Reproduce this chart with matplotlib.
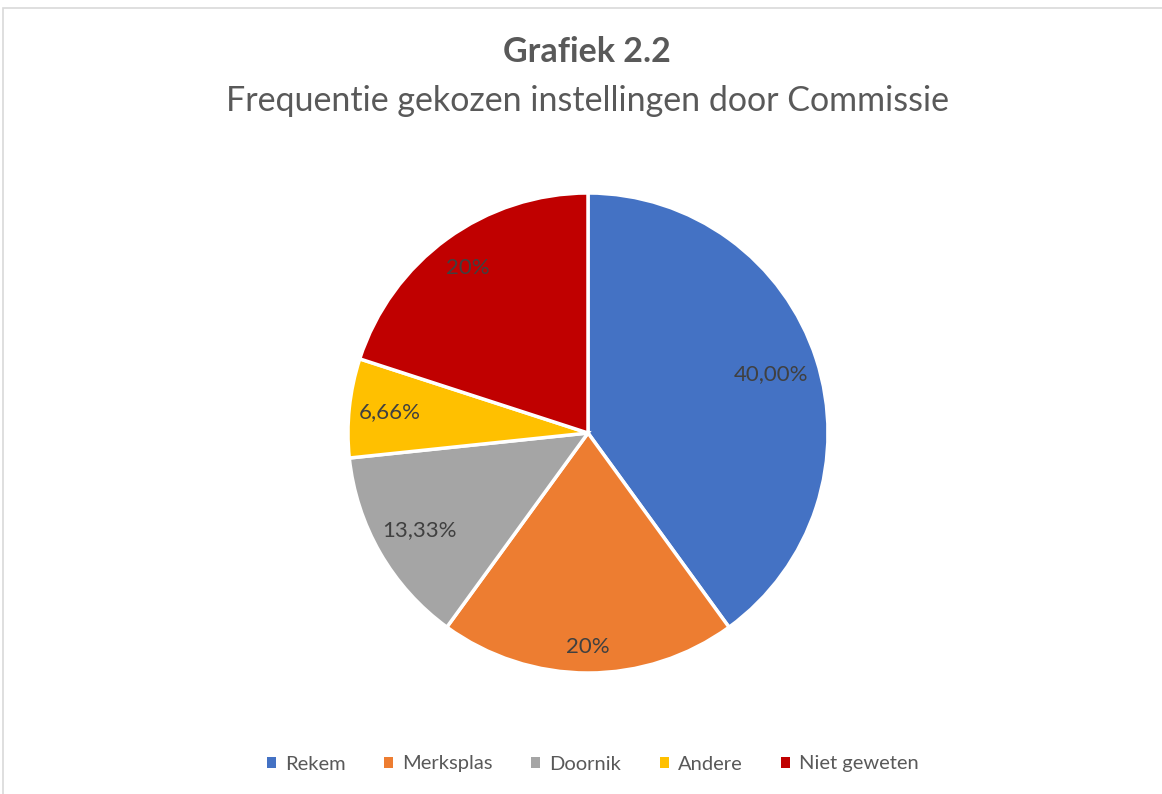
import matplotlib
matplotlib.use("Agg")
import matplotlib.pyplot as plt
from matplotlib.patches import Rectangle
import numpy as np

plt.rcParams['font.family'] = ['Lato', 'DejaVu Sans']

categories = ["Rekem", "Merksplas", "Doornik", "Andere", "Niet geweten"]
values = [40.00, 20.0, 13.33, 6.66, 20.0]
value_labels = ["40,00%", "20%", "13,33%", "6,66%", "20%"]
colors = ["#4472C4", "#ED7D31", "#A5A5A5", "#FFC000", "#C00000"]
label_dist = [0.80, 0.89, 0.81, 0.83, 0.85]

W, H = 1162, 794
fig = plt.figure(figsize=(W / 100, H / 100), dpi=100)
fig.patch.set_facecolor("white")

# chart border (partially visible)
fig.add_artist(Rectangle((3 / W, -0.05), 1.2, 1 - 8 / H + 0.05, transform=fig.transFigure,
                         fill=False, edgecolor="#D9D9D9", linewidth=1.2))

cx, cy, r = 588, 433, 240
ax = fig.add_axes([(cx - r) / W, (H - cy - r) / H, 2 * r / W, 2 * r / H])
wedges, _ = ax.pie(values, colors=colors, startangle=90, counterclock=False,
                   wedgeprops=dict(edgecolor="white", linewidth=2.5))
ax.set_xlim(-1, 1)
ax.set_ylim(-1, 1)
ax.set_aspect("equal")
ax.axis("off")

for w, lab, d in zip(wedges, value_labels, label_dist):
    ang = np.deg2rad((w.theta1 + w.theta2) / 2)
    ax.text(d * np.cos(ang), d * np.sin(ang), lab, ha="center", va="center",
            fontsize=16, color="#404040")

fig.text(587 / W, 1 - 52 / H, "Grafiek 2.2", ha="center", va="center",
         fontsize=24.5, fontweight="bold", color="#595959")
fig.text(588 / W, 1 - 101 / H, "Frequentie gekozen instellingen door Commissie",
         ha="center", va="center", fontsize=24.5, color="#595959")

leg = fig.legend(wedges, categories, loc="center", bbox_to_anchor=(593 / W, 1 - 764 / H),
                 ncol=5, frameon=False, fontsize=14.5, handlelength=0.45, handleheight=0.45,
                 handletextpad=0.45, columnspacing=1.9)
for t in leg.get_texts():
    t.set_color("#595959")
for h in leg.legend_handles:
    h.set_edgecolor("none")

fig.savefig("out.png", dpi=100, facecolor="white")
